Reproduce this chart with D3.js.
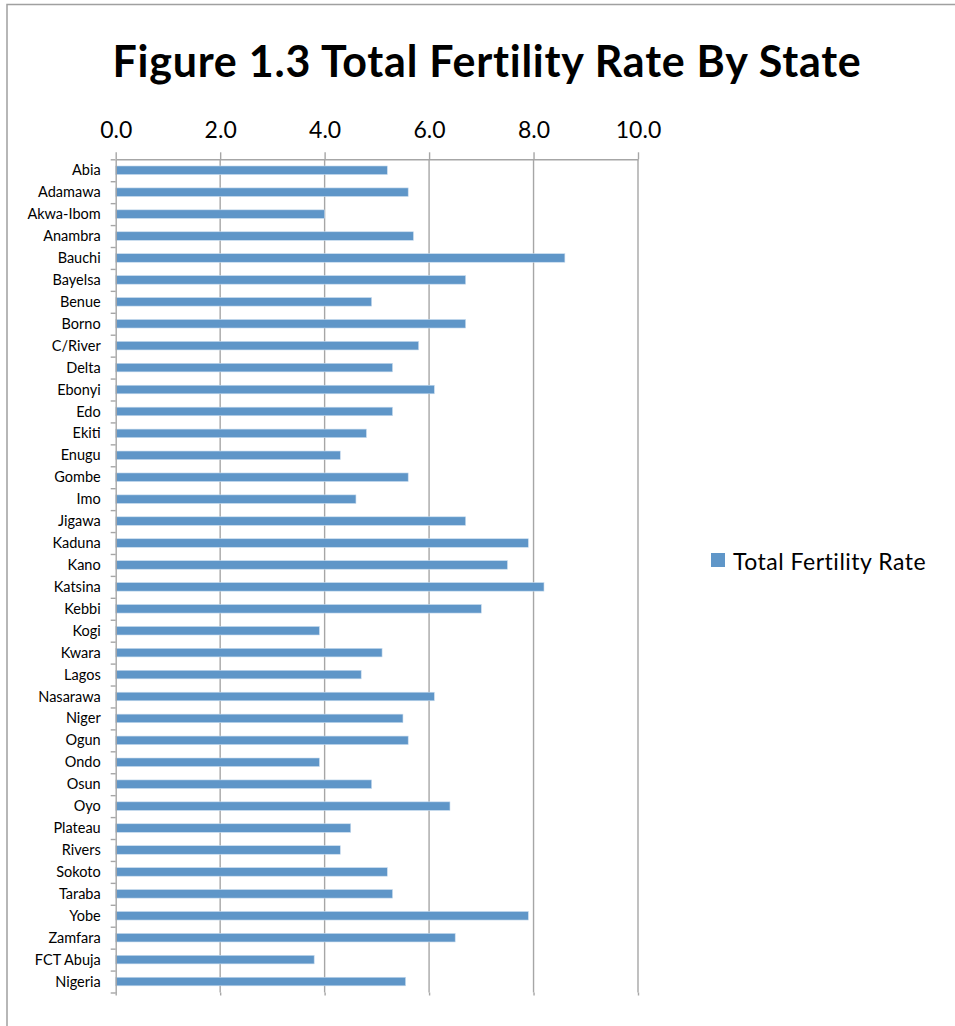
<!DOCTYPE html>
<html>
	<head>
		<meta charset="utf-8">
		<title>Total Fertility Rate By State</title>
		<script src="https://cdn.jsdelivr.net/npm/d3@7"></script>
		<style>
			body { margin: 0; background: #fff; }
			svg text { font-family: Lato, "Open Sans", sans-serif; fill: #000; }
		</style>
	</head>
	<body>
		<div id="root"></div>
		<script>
			//states in the order they appear, top to bottom
			const states = ["Abia", "Adamawa", "Akwa-Ibom", "Anambra", "Bauchi", "Bayelsa", "Benue",
				"Borno", "C/River", "Delta", "Ebonyi", "Edo", "Ekiti", "Enugu", "Gombe", "Imo",
				"Jigawa", "Kaduna", "Kano", "Katsina", "Kebbi", "Kogi", "Kwara", "Lagos", "Nasarawa",
				"Niger", "Ogun", "Ondo", "Osun", "Oyo", "Plateau", "Rivers", "Sokoto", "Taraba",
				"Yobe", "Zamfara", "FCT Abuja", "Nigeria"];

			//total fertility rate
			const tfr = [5.2, 5.6, 4.0, 5.7, 8.6, 6.7, 4.9,
				6.7, 5.8, 5.3, 6.1, 5.3, 4.8, 4.3, 5.6, 4.6,
				6.7, 7.9, 7.5, 8.2, 7.0, 3.9, 5.1, 4.7, 6.1,
				5.5, 5.6, 3.9, 4.9, 6.4, 4.5, 4.3, 5.2, 5.3,
				7.9, 6.5, 3.8, 5.55];

			const xTicks = [0, 2, 4, 6, 8, 10];
			const titleText = "Figure 1.3 Total Fertility Rate By State";
			const seriesName = "Total Fertility Rate";

			const width = 955;
			const height = 1026;
			const barColor = "#5f96c8";
			const gridColor = "#a6a6a6";

			//plot area
			const plotLeft = 115.7, plotRight = 638, plotTop = 159.3, plotBottom = 992.5;

			const x = d3.scaleLinear().domain([0, 10]).range([plotLeft, plotRight]);

			const y = d3.scaleBand()
			.domain(states)
			.range([plotTop, plotBottom])
			.paddingInner(0.61)
			.paddingOuter(0.305);

			//boundaries between categories, used for the small ticks on the left axis
			const yEdges = d3.scaleLinear().domain([0, states.length]).range([plotTop, plotBottom]);

			const svg = d3.select("#root")
			.append("svg")
			.attr("width", width)
			.attr("height", height);

			//chart frame (runs off the right and bottom edge)
			svg.append("rect")
			.attr("x", 7)
			.attr("y", 4.5)
			.attr("width", 1100)
			.attr("height", 1200)
			.attr("fill", "none")
			.attr("stroke", "#a0a0a0")
			.attr("stroke-width", 1.5);

			//title
			svg.append("text")
			.attr("x", 487)
			.attr("y", 77)
			.attr("text-anchor", "middle")
			.attr("font-size", "43px")
			.attr("font-weight", "bold")
			.attr("letter-spacing", "0.75px")
			.text(titleText);

			//vertical gridlines
			svg.append("g")
			.selectAll("line")
			.data(xTicks.slice(1))
			.join("line")
			.attr("x1", d => x(d))
			.attr("x2", d => x(d))
			.attr("y1", plotTop)
			.attr("y2", plotBottom)
			.attr("stroke", gridColor)
			.attr("stroke-width", 1.4);

			//bars
			svg.append("g")
			.selectAll("rect")
			.data(tfr)
			.join("rect")
			.attr("x", x(0))
			.attr("y", (d, i) => y(states[i]))
			.attr("width", d => x(d) - x(0))
			.attr("height", y.bandwidth())
			.attr("fill", barColor)
			.attr("stroke", "#c9dcee")
			.attr("stroke-width", 0.6);

			//top axis with labels
			const xAxis = d3.axisTop(x)
			.tickValues(xTicks)
			.tickFormat(d3.format(".1f"))
			.tickSize(7)
			.tickSizeOuter(0)
			.tickPadding(14);

			const gx = svg.append("g")
			.attr("transform", "translate(0," + plotTop + ")")
			.call(xAxis);
			gx.selectAll("line, path").attr("stroke", gridColor).attr("stroke-width", 1.4);
			gx.selectAll("text").attr("font-size", "23px");
			gx.attr("font-family", null);

			//bottom: small ticks below the plot
			const gxb = svg.append("g")
			.attr("transform", "translate(0," + plotBottom + ")")
			.call(d3.axisBottom(x).tickValues(xTicks).tickSize(3).tickSizeOuter(0).tickFormat(""));
			gxb.select("path").remove();
			gxb.selectAll("line").attr("stroke", gridColor).attr("stroke-width", 1.4);

			//left axis: ticks at category edges
			const gy = svg.append("g")
			.attr("transform", "translate(" + plotLeft + ",0)")
			.call(d3.axisLeft(yEdges).ticks(states.length).tickSize(5).tickSizeOuter(0).tickFormat(""));
			gy.selectAll("line, path").attr("stroke", gridColor).attr("stroke-width", 1.4);

			//category labels
			svg.append("g")
			.selectAll("text")
			.data(states)
			.join("text")
			.attr("x", plotLeft - 15)
			.attr("y", d => y(d) + y.bandwidth() / 2)
			.attr("dy", "0.35em")
			.attr("text-anchor", "end")
			.attr("font-size", "14.5px")
			.text(d => d);

			//legend
			const legend = svg.append("g").attr("transform", "translate(711,553)");
			legend.append("rect")
			.attr("width", 14)
			.attr("height", 14)
			.attr("fill", barColor);
			legend.append("text")
			.attr("x", 22)
			.attr("y", 16.5)
			.attr("font-size", "23px")
			.attr("letter-spacing", "0.5px")
			.text(seriesName);
		</script>
	</body>
</html>
